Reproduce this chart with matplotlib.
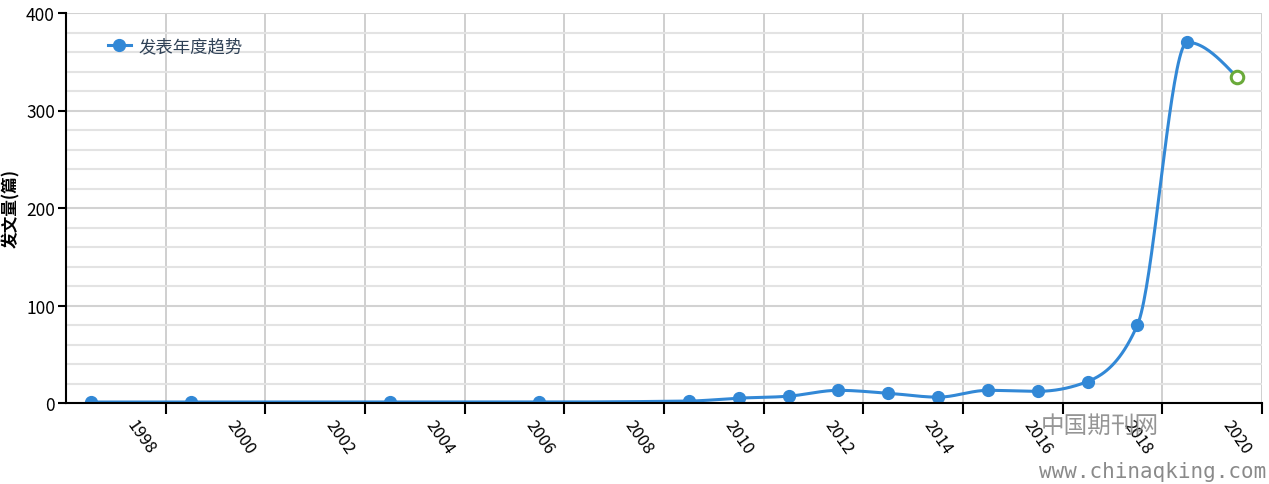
import numpy as np
import matplotlib
matplotlib.use('Agg')
import matplotlib.pyplot as plt
from matplotlib.ticker import MultipleLocator, FixedLocator

plt.rcParams['font.family'] = ['Noto Sans CJK SC', 'DejaVu Sans']

# Data
years = [1997, 1999, 2003, 2006, 2009, 2010, 2011, 2012, 2013, 2014, 2015, 2016, 2017, 2018, 2019, 2020]
counts = [1, 1, 1, 1, 2, 5, 7, 13, 10, 6, 13, 12, 22, 80, 370, 334]
tick_years = list(range(1998, 2021, 2))
series_name = '发表年度趋势'
ylabel = '发文量(篇)'

BLUE = '#3288d6'
GREEN = '#6aaa3a'


def monotone_curve(x, y, n=40):
    # same idea as d3.curveMonotoneX: hermite pieces with limited slopes
    x = np.asarray(x, float)
    y = np.asarray(y, float)
    h = np.diff(x)
    s = np.diff(y) / h
    m = np.zeros_like(y)
    for i in range(1, len(x) - 1):
        p = (s[i - 1] * h[i] + s[i] * h[i - 1]) / (h[i - 1] + h[i])
        m[i] = (np.sign(s[i - 1]) + np.sign(s[i])) * min(abs(s[i - 1]), abs(s[i]), 0.5 * abs(p))
    m[0] = (3 * s[0] - m[1]) / 2
    m[-1] = (3 * s[-1] - m[-2]) / 2
    t = np.linspace(0, 1, n)
    h00 = 2 * t**3 - 3 * t**2 + 1
    h10 = t**3 - 2 * t**2 + t
    h01 = -2 * t**3 + 3 * t**2
    h11 = t**3 - t**2
    xs, ys = [], []
    for i in range(len(x) - 1):
        xs.append(x[i] + t * h[i])
        ys.append(h00 * y[i] + h10 * h[i] * m[i] + h01 * y[i + 1] + h11 * h[i] * m[i + 1])
    return np.concatenate(xs), np.concatenate(ys)


fig = plt.figure(figsize=(12.69, 4.85), dpi=100)
ax = fig.add_axes([66 / 1269, 1 - 404 / 485, (1262 - 66) / 1269, 390 / 485])

# grid
ax.set_xlim(1996.5, 2020.5)
ax.set_ylim(0, 400)
ax.yaxis.set_major_locator(MultipleLocator(100))
ax.yaxis.set_minor_locator(MultipleLocator(20))
ax.xaxis.set_major_locator(FixedLocator(tick_years))
ax.xaxis.set_minor_locator(FixedLocator([y + 0.5 for y in tick_years]))
ax.grid(which='minor', axis='y', color='#e3e3e3', lw=1.5, zorder=0)
ax.grid(which='major', axis='y', color='#d2d2d2', lw=1.5, zorder=0)
ax.grid(which='minor', axis='x', color='#cccccc', lw=1.3, zorder=0)

sx, sy = monotone_curve(years, counts)
ax.plot(sx, sy, color=BLUE, lw=2.2, zorder=3, solid_capstyle='round')
ax.plot(years[:-1], counts[:-1], 'o', color=BLUE, ms=8.5, zorder=4)
ax.plot(years[-1], counts[-1], 'o', mfc='white', mec=GREEN, mew=2.2, ms=9, zorder=4)

# legend handle
ax.plot([], [], '-o', color=BLUE, lw=2.2, ms=8.5, label=series_name)
leg = ax.legend(loc='center left', bbox_to_anchor=(0.022, 0.915), frameon=False,
                handlelength=1.3, handletextpad=0.45, fontsize=12.5)
for txt in leg.get_texts():
    txt.set_color('#2f4156')

for side in ['top', 'right']:
    ax.spines[side].set_visible(False)
ax.spines['left'].set_linewidth(1.5)
ax.spines['bottom'].set_linewidth(1.5)
ax.spines['bottom'].set_zorder(5)

ax.tick_params(axis='y', which='major', length=6, width=1.5, labelsize=12.5, pad=2)
ax.tick_params(axis='y', which='minor', length=0)
ax.tick_params(axis='x', which='major', length=0, labelsize=12, pad=10)
ax.tick_params(axis='x', which='minor', length=8, width=1.5, direction='out')
ax.set_xticklabels([str(y) for y in tick_years], rotation=-55, ha='center', va='top')

ax.set_ylabel(ylabel, fontsize=12, fontweight='bold', labelpad=4)

# watermark
fig.text(1100 / 1269, 1 - 426 / 485, '中国期刊网', fontsize=17, color='#8a8a8a',
         ha='center', va='center', alpha=0.9)
fig.text(1266 / 1269, 1 - 472 / 485, 'www.chinaqking.com', fontsize=15, color='#8a8a8a',
         family='DejaVu Sans Mono', ha='right', va='center')

fig.savefig('out.png', dpi=100)
